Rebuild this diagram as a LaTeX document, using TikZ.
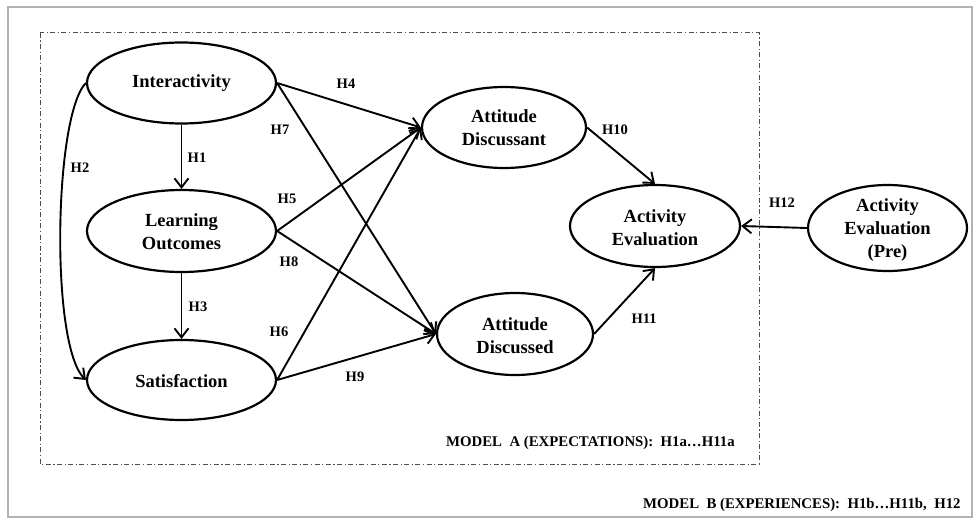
\documentclass[tikz,border=0pt]{standalone}
\usepackage{fontspec}
\setmainfont{Liberation Serif}
\usetikzlibrary{shapes.geometric,arrows.meta}
\begin{document}
\begin{tikzpicture}[x=1pt,y=-1pt,
  ell/.style={draw=black, line width=2.2pt, ellipse, inner sep=0pt},
  etext/.style={font=\fontsize{18.5}{23}\selectfont\bfseries, align=center, inner sep=0pt},
  hlab/.style={font=\fontsize{14.5}{16}\selectfont\bfseries, inner sep=0pt},
  arr/.style={line width=1.9pt, -{Straight Barb[length=9pt,width=14pt,line width=1.9pt]}},
  model/.style={font=\fontsize{14.8}{16}\selectfont\bfseries, inner sep=0pt, anchor=west}
]
\useasboundingbox (0,0) rectangle (974,519);
% outer frame
\draw[gray!60, line width=1.5pt] (8,7) rectangle (972,517);
% model A box
\draw[black!70, line width=1pt, dash pattern=on 5pt off 2.5pt on 1.2pt off 2.5pt] (40,33) rectangle (759,464);

% ellipses
\node[ell, minimum width=189pt, minimum height=81pt] (int) at (181.5,83) {};
\node[ell, minimum width=189pt, minimum height=82pt] (lo) at (181.5,231) {};
\node[ell, minimum width=189pt, minimum height=80pt] (sat) at (181.5,380) {};
\node[ell, minimum width=164pt, minimum height=81pt] (ad) at (504,127.5) {};
\node[ell, minimum width=156pt, minimum height=82pt] (adc) at (515,334) {};
\node[ell, minimum width=170pt, minimum height=82pt] (ae) at (655,226) {};
\node[ell, minimum width=159pt, minimum height=86pt] (pre) at (887.5,228) {};

% texts
\node[etext] (intT) at (181.5,83) {Interactivity};
\node[etext] (loT) at (181.5,232) {Learning\\Outcomes};
\node[etext] (satT) at (181.5,381) {Satisfaction};
\node[etext] (adT) at (504,128) {Attitude\\Discussant};
\node[etext] (adcT) at (515,336) {Attitude\\Discussed};
\node[etext] (aeT) at (655,228) {Activity\\Evaluation};
\node[etext] (preT) at (887.5,230) {Activity\\Evaluation\\(Pre)};

% arrows
\draw[arr] (int.south) -- (lo.north);
\draw[arr] (lo.south) -- (sat.north);
\draw[arr] (int.west) .. controls (54,115) and (50,345) .. (sat.west);
\draw[arr] (int.east) -- (ad.west);
\draw[arr] (int.east) -- (adc.west);
\draw[arr] (lo.east) -- (ad.west);
\draw[arr] (lo.east) -- (adc.west);
\draw[arr] (sat.east) -- (ad.west);
\draw[arr] (sat.east) -- (adc.west);
\draw[arr] (ad.east) -- (ae.north);
\draw[arr] (adc.east) -- (ae.south);
\draw[arr] (pre.west) -- (ae.east);

% labels
\node[hlab] (h1) at (197,158) {H1};
\node[hlab] (h2) at (80,168) {H2};
\node[hlab] (h3) at (198,307) {H3};
\node[hlab] (h4) at (346,84) {H4};
\node[hlab] (h5) at (287,199) {H5};
\node[hlab] (h6) at (279,332) {H6};
\node[hlab] (h7) at (280,130) {H7};
\node[hlab] (h8) at (289,262) {H8};
\node[hlab] (h9) at (355,377) {H9};
\node[hlab] (h10) at (615,130) {H10};
\node[hlab] (h11) at (644,319) {H11};
\node[hlab] (h12) at (782,203) {H12};

\node[model] (ma) at (446,443) {MODEL\ \ A (EXPECTATIONS):\ \ H1a…H11a};
\node[model] (mb) at (643,505) {MODEL\ \ B (EXPERIENCES):\ \ H1b…H11b,\ \ H12};
\end{tikzpicture}
\end{document}
